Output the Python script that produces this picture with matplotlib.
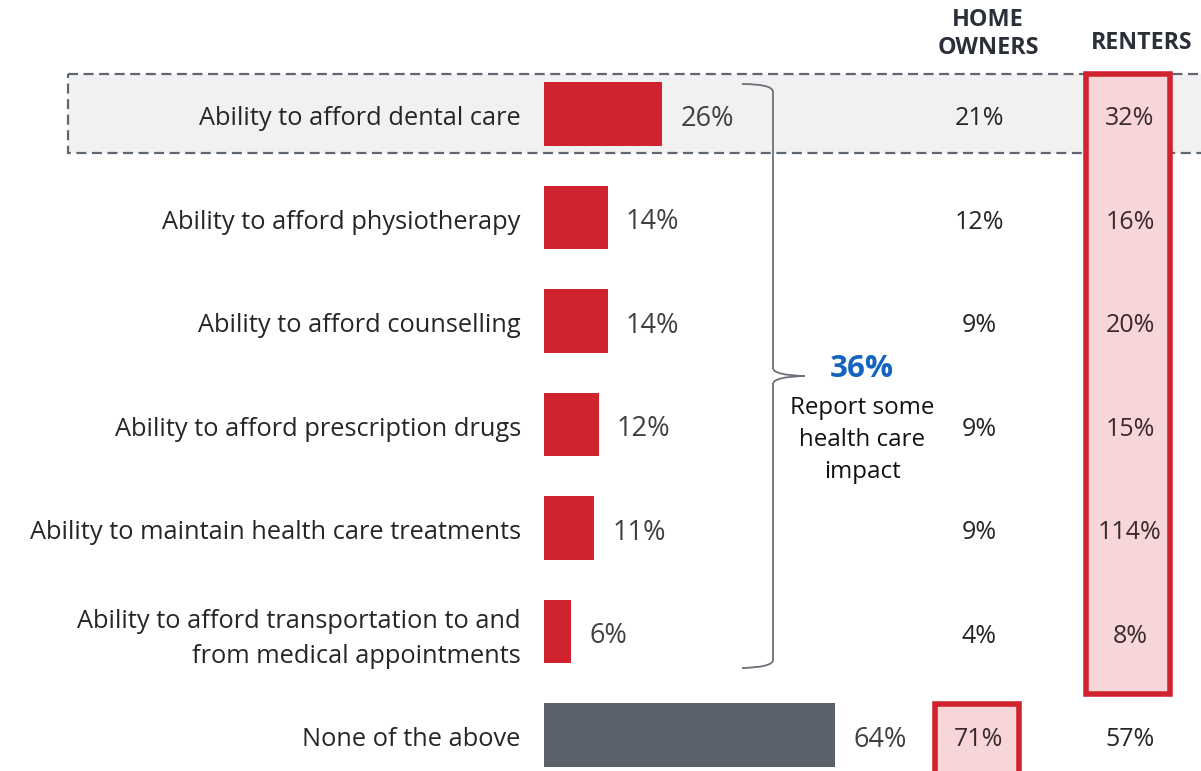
"""Health care impact by tenure, bar chart with side-by-side columns."""

import matplotlib
matplotlib.use('Agg')
import matplotlib.pyplot as plt  # noqa: E402
from matplotlib.patches import Rectangle, PathPatch  # noqa: E402
from matplotlib.path import Path  # noqa: E402

categories = [
    'Ability to afford dental care',
    'Ability to afford physiotherapy',
    'Ability to afford counselling',
    'Ability to afford prescription drugs',
    'Ability to maintain health care treatments',
    'Ability to afford transportation to and\nfrom medical appointments',
    'None of the above',
]
total = [26, 14, 14, 12, 11, 6, 64]
home_owners = ['21%', '12%', '9%', '9%', '9%', '4%', '71%']
renters = ['32%', '16%', '20%', '15%', '114%', '8%', '57%']
impact_total = '36%'

RED = '#d0232d'
GREY_BAR = '#5b616a'
PINK = '#f6d6d9'
TEXT = '#262626'
FONT = 'Open Sans'

plt.rcParams['font.family'] = [FONT, 'DejaVu Sans']

fig = plt.figure(figsize=(12.01, 7.71), dpi=100)
ax = fig.add_axes([0, 0, 1, 1])
ax.set_axis_off()

# one x unit = one percentage point, one y unit = one row
px = 4.55
ax.set_xlim(-544 / px, (1201 - 544) / px)
row = 103.5
ax.set_ylim((771 - 114) / row, -114 / row)

col_home = (979 - 544) / px
col_rent = (1130 - 544) / px
tdy = 0.045  # text sits a touch below the bar centre

# highlighted first row
ax.add_patch(Rectangle((-104.6, -0.39), 260, 0.765, facecolor='#f1f1f1',
                       edgecolor='#5f6770', lw=1.6, ls=(0, (4.5, 2.5)),
                       zorder=0))

# renters highlight column
ax.add_patch(Rectangle(((1086 - 544) / px, (74 - 114) / row), 84 / px,
                       620 / row, facecolor=PINK, edgecolor=RED, lw=4,
                       zorder=1))
# home owners "none of the above" highlight
ax.add_patch(Rectangle(((934.5 - 544) / px, (704.5 - 114) / row), 84 / px,
                       1.0, facecolor=PINK, edgecolor=RED, lw=4, zorder=1))

ys = list(range(len(categories)))
colors = [RED] * 6 + [GREY_BAR]
ax.barh(ys, total, height=0.61, left=0, color=colors, zorder=2)

for y, cat, v, h, r in zip(ys, categories, total, home_owners, renters):
    dy = 0.07 if '\n' in cat else tdy
    ax.text(-5.1, y + dy, cat, ha='right', va='center', fontsize=18.3,
            color=TEXT, linespacing=1.55)
    ax.text(v + 4, y + tdy, f'{v}%', ha='left', va='center', fontsize=19.5,
            color='#404040', zorder=3)
    ax.text(col_home, y + tdy, h, ha='center', va='center', fontsize=18,
            color=TEXT if y < 6 else '#3b2a2c', zorder=3)
    ax.text(col_rent, y + tdy, r, ha='center', va='center', fontsize=18,
            color='#3b2a2c' if y < 6 else TEXT, zorder=3)

# column headers
ax.text((988 - 544) / px, (34 - 114) / row, 'HOME\nOWNERS', ha='center',
        va='center', fontsize=16.8, fontweight='bold', color='#2b3038',
        linespacing=1.27)
ax.text((1142 - 544) / px, (43 - 114) / row, 'RENTERS', ha='center',
        va='center', fontsize=16.7, fontweight='bold', color='#2b3038')

# curly brace grouping the six health care rows
bx0, bx1, bx2 = (742 - 544) / px, (773 - 544) / px, (805 - 544) / px
top, mid, bot = (84 - 114) / row, (376 - 114) / row, (668 - 114) / row
c = 8 / row
verts = [
    (bx0, top), (bx1, top), (bx1, top + c),
    (bx1, mid - c),
    (bx1, mid), (bx2, mid), (bx2, mid),
    (bx2, mid), (bx1, mid), (bx1, mid + c),
    (bx1, bot - c),
    (bx1, bot), (bx0, bot), (bx0, bot),
]
codes = [Path.MOVETO, Path.CURVE3, Path.CURVE3,
         Path.LINETO,
         Path.CURVE4, Path.CURVE4, Path.CURVE4,
         Path.CURVE4, Path.CURVE4, Path.CURVE4,
         Path.LINETO,
         Path.CURVE4, Path.CURVE4, Path.CURVE4]
ax.add_patch(PathPatch(Path(verts, codes), facecolor='none',
                       edgecolor='#6b7079', lw=1.3, zorder=2))

cx = (862 - 544) / px
ax.text(cx, (369 - 114) / row, impact_total, ha='center', va='center',
        fontsize=22.5, fontweight='bold', color='#1565c0')
ax.text(cx, (440 - 114) / row, 'Report some\nhealth care\nimpact',
        ha='center', va='center', fontsize=17.4, color='#111111',
        linespacing=1.42)

fig.savefig('out.png', dpi=100)
